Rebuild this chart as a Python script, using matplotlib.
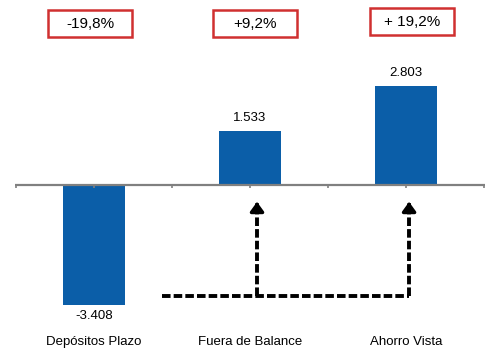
import matplotlib.pyplot as plt
import matplotlib.patches as mpatches
import numpy as np

# values
categories = ["Depósitos Plazo", "Fuera de Balance", "Ahorro Vista"]
values = [-3.408, 1.533, 2.803]
value_labels = ["-3.408", "1.533", "2.803"]
pct_labels = ["-19,8%", "+9,2%", "+ 19,2%"]

BAR_COLOR = "#0B5EA8"
FONT = ["Liberation Sans", "DejaVu Sans"]

fig = plt.figure(figsize=(5.0, 3.54), dpi=100)
ax = fig.add_axes([0, 0, 1, 1])
ax.set_xlim(-0.603, 2.603)
ax.set_ylim(-4.80, 5.256)
ax.axis("off")

x = np.arange(len(categories))
ax.bar(x, values, width=0.40, color=BAR_COLOR, zorder=2)

# baseline with small ticks
ax.hlines(0, -0.51, 2.51, color="#808080", lw=1.6, zorder=3)
for t in np.arange(-0.5, 2.51, 0.5):
    ax.vlines(t, -0.09, 0, color="#808080", lw=1.2, zorder=3)

# value labels
for xi, v, lab in zip(x, values, value_labels):
    if v >= 0:
        ax.text(xi, v + 0.2, lab, ha="center", va="bottom", fontsize=9.5, family=FONT)
    else:
        ax.text(xi, v - 0.15, lab, ha="center", va="top", fontsize=9.5, family=FONT)

# category labels
for xi, c in zip(x, categories):
    ax.text(xi, -4.45, c, ha="center", va="center", fontsize=9.5, family=FONT)

# percentage boxes
pct_x = [-0.026, 0.03, 0.04]
pct_y = [4.588, 4.588, 4.645]
box_w, box_h = 0.54, 0.77
for px, py, lab in zip(x + np.array(pct_x), pct_y, pct_labels):
    ax.add_patch(mpatches.Rectangle((px - box_w / 2, py - box_h / 2), box_w, box_h,
                                    facecolor="white", edgecolor="#D03030", lw=1.8,
                                    zorder=3))
    ax.text(px, py, lab, ha="center", va="center", fontsize=11, family=FONT,
            zorder=4)

# dashed arrows
y_base = -3.15
y_tip = -0.40
x_start = 0.436
x_arr = [1.045, 2.02]
ax.plot([x_start, x_arr[1]], [y_base, y_base], color="black", lw=2.8,
        ls=(0, (2.2, 0.8)), zorder=4)
for xa in x_arr:
    ax.plot([xa, xa], [y_base, y_tip - 0.25], color="black", lw=2.8,
            ls=(0, (2.2, 0.8)), zorder=4)
    ax.annotate("", xy=(xa, y_tip), xytext=(xa, y_tip - 0.3),
                arrowprops=dict(arrowstyle="-|>,head_width=0.4,head_length=0.55",
                                color="black", lw=2.5), zorder=5)

fig.savefig("out.png", dpi=100)
